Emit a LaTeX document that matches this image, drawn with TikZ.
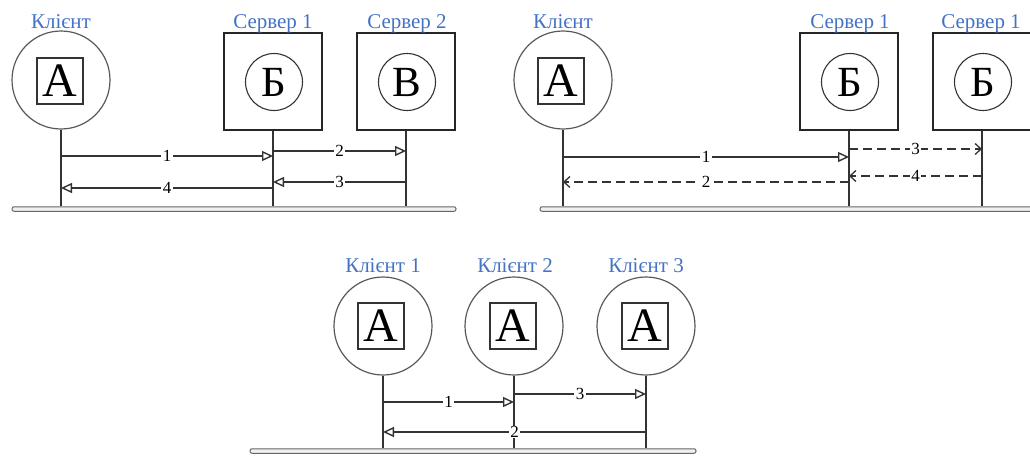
\documentclass[tikz,border=0pt]{standalone}
\usepackage{fontspec}
\setmainfont{Liberation Serif}
\usetikzlibrary{arrows.meta}
\definecolor{lblblue}{RGB}{68,114,196}

\begin{document}
\begin{tikzpicture}[x=1pt,y=-1pt,
  every node/.style={inner sep=0pt},
  caption/.style={text=lblblue, font=\fontsize{21}{24}\selectfont, anchor=base},
  host/.style={circle, draw=black!65, line width=1.2pt, minimum size=98pt},
  server/.style={rectangle, draw=black!85, line width=1.5pt, minimum width=98pt, minimum height=97pt},
  appsq/.style={rectangle, draw=black!80, line width=1.1pt, minimum size=46pt, font=\fontsize{48}{48}\selectfont},
  appcirc/.style={circle, draw=black!80, line width=1.1pt, minimum size=57pt, font=\fontsize{43}{43}\selectfont},
  bus/.style={rectangle, rounded corners=2pt, draw=black!60, fill=black!6, line width=1pt, minimum height=4.5pt},
  drop/.style={draw=black!80, line width=1.7pt},
  msg/.style={draw=black!80, line width=1.5pt, -{Triangle[open, length=11pt, width=10pt, line width=1.4pt]}},
  dmsg/.style={draw=black!80, line width=1.5pt, dash pattern=on 9pt off 5pt, -{Straight Barb[length=6pt, width=11pt, line width=1.3pt]}},
  num/.style={fill=white, inner xsep=1.5pt, inner ysep=0.5pt, font=\fontsize{17}{17}\selectfont},
]
\useasboundingbox (0,0) rectangle (1030,455);
\clip (0,0) rectangle (1030,455);

% ---------- client, server 1, server 2 ----------
\node[host] (c1) at (61,80) {};
\node[appsq] (c1a) at (60,81) {А};
\node[caption] (c1l) at (61,28) {Клієнт};
\node[server] (s1) at (273,81.5) {};
\node[appcirc] (s1a) at (274,82) {Б};
\node[caption] (s1l) at (273,28) {Сервер 1};
\node[server] (s2) at (406,81.5) {};
\node[appcirc] (s2a) at (407,82) {В};
\node[caption] (s2l) at (407,28) {Сервер 2};
\node[bus, minimum width=444pt] (busA) at (234,209) {};

\draw[drop] (c1.south) -- (c1.south |- busA.north);
\draw[drop] (s1.south) -- (s1.south |- busA.north);
\draw[drop] (s2.south) -- (s2.south |- busA.north);

\draw[msg] (c1.south |- 0,156) -- node[num] {1} (s1.south |- 0,156);
\draw[msg] (s1.south |- 0,151) -- node[num] {2} (s2.south |- 0,151);
\draw[msg] (s2.south |- 0,182) -- node[num] {3} (s1.south |- 0,182);
\draw[msg] (s1.south |- 0,188) -- node[num] {4} (c1.south |- 0,188);

% ---------- client and two copies of server 1 ----------
\node[host] (c2) at (563,80) {};
\node[appsq] (c2a) at (561,81) {А};
\node[caption] (c2l) at (563,28) {Клієнт};
\node[server] (s3) at (849,81.5) {};
\node[appcirc] (s3a) at (850,82) {Б};
\node[caption] (s3l) at (850,28) {Сервер 1};
\node[server] (s4) at (982,81.5) {};
\node[appcirc] (s4a) at (983,82) {Б};
\node[caption] (s4l) at (981,28) {Сервер 1};
\node[bus, minimum width=496pt] (busB) at (788,209) {};

\draw[drop] (c2.south) -- (c2.south |- busB.north);
\draw[drop] (s3.south) -- (s3.south |- busB.north);
\draw[drop] (s4.south) -- (s4.south |- busB.north);

\draw[msg]  (c2.south |- 0,157) -- node[num] {1} (s3.south |- 0,157);
\draw[dmsg] (s3.south |- 0,182) -- node[num] {2} (c2.south |- 0,182);
\draw[dmsg] (s3.south |- 0,149) -- node[num] {3} (s4.south |- 0,149);
\draw[dmsg] (s4.south |- 0,176) -- node[num] {4} (s3.south |- 0,176);

% ---------- three peers ----------
\node[host] (k1) at (383,326) {};
\node[appsq] (k1a) at (381,326) {А};
\node[caption] (k1l) at (383,272) {Клієнт 1};
\node[host] (k2) at (514,326) {};
\node[appsq] (k2a) at (513,326) {А};
\node[caption] (k2l) at (515,272) {Клієнт 2};
\node[host] (k3) at (646,326) {};
\node[appsq] (k3a) at (645,326) {А};
\node[caption] (k3l) at (646,272) {Клієнт 3};
\node[bus, minimum width=446pt] (busC) at (473,451) {};

\draw[drop] (k1.south) -- (k1.south |- busC.north);
\draw[drop] (k2.south) -- (k2.south |- busC.north);
\draw[drop] (k3.south) -- (k3.south |- busC.north);

\draw[msg] (k1.south |- 0,402) -- node[num] {1} (k2.south |- 0,402);
\draw[msg] (k2.south |- 0,394) -- node[num] {3} (k3.south |- 0,394);
\draw[msg] (k3.south |- 0,432) -- node[num] {2} (k1.south |- 0,432);
\end{tikzpicture}
\end{document}
